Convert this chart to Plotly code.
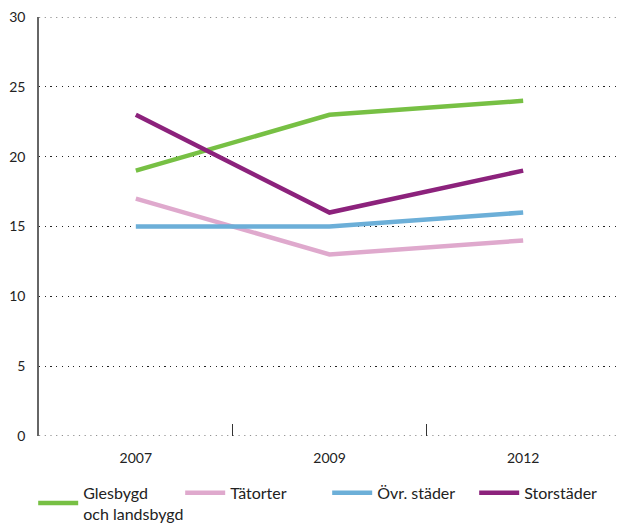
import plotly.graph_objects as go

years = ["2007", "2009", "2012"]
series_names = ["Glesbygd<br>och landsbygd", "Tätorter", "Övr. städer", "Storstäder"]
glesbygd = [19, 23, 24]
tatorter = [17, 13, 14]
ovr_stader = [15, 15, 16]
storstader = [23, 16, 19]
colors = ["#77C044", "#DFA9CD", "#6CAFD8", "#8C227C"]
y_ticks = [0, 5, 10, 15, 20, 25, 30]

fig = go.Figure()
for name, vals, col in zip(series_names, [glesbygd, tatorter, ovr_stader, storstader], colors):
    fig.add_trace(go.Scatter(
        x=years, y=vals, mode="lines", name=name,
        line=dict(color=col, width=4.5),
    ))

# plotly drops the gridlines at the range ends, so add those two by hand
for v in (y_ticks[0], y_ticks[-1]):
    fig.add_shape(type="line", xref="paper", x0=0, x1=1, yref="y", y0=v, y1=v,
                  line=dict(color="#222222", width=1.2, dash="1.2px,4.5px"),
                  layer="below")

fig.update_layout(
    width=621, height=525,
    margin=dict(l=39, r=1, t=17, b=89, autoexpand=False),
    plot_bgcolor="white", paper_bgcolor="white",
    font=dict(family="Lato, sans-serif", size=14, color="#222222"),
    showlegend=True,
    legend=dict(
        orientation="h", x=-0.01, xanchor="left", y=-0.095, yanchor="top",
        font=dict(size=16, color="#222222"), itemwidth=40, tracegroupgap=0,
        entrywidth=92, entrywidthmode="pixels",
    ),
)
fig.update_xaxes(
    type="category", tickson="boundaries", ticks="inside", ticklen=12,
    tickcolor="#333333", tickwidth=1, showgrid=False, showline=False,
    zeroline=False, tickfont=dict(size=14), range=[-0.5, 2.5],
    automargin=False, ticklabelstandoff=12,
)
fig.update_yaxes(
    range=[0, 30], tickvals=y_ticks,
    showgrid=True, gridcolor="#222222", griddash="1.2px,4.5px", gridwidth=1.2,
    showline=True, linecolor="#666666", linewidth=1.5,
    zeroline=False, ticks="", tickfont=dict(size=14), ticklabelstandoff=9,
    automargin=False,
)

fig.write_html("out.html", config={"displayModeBar": False},
               post_script="document.body.style.margin='0px';")
